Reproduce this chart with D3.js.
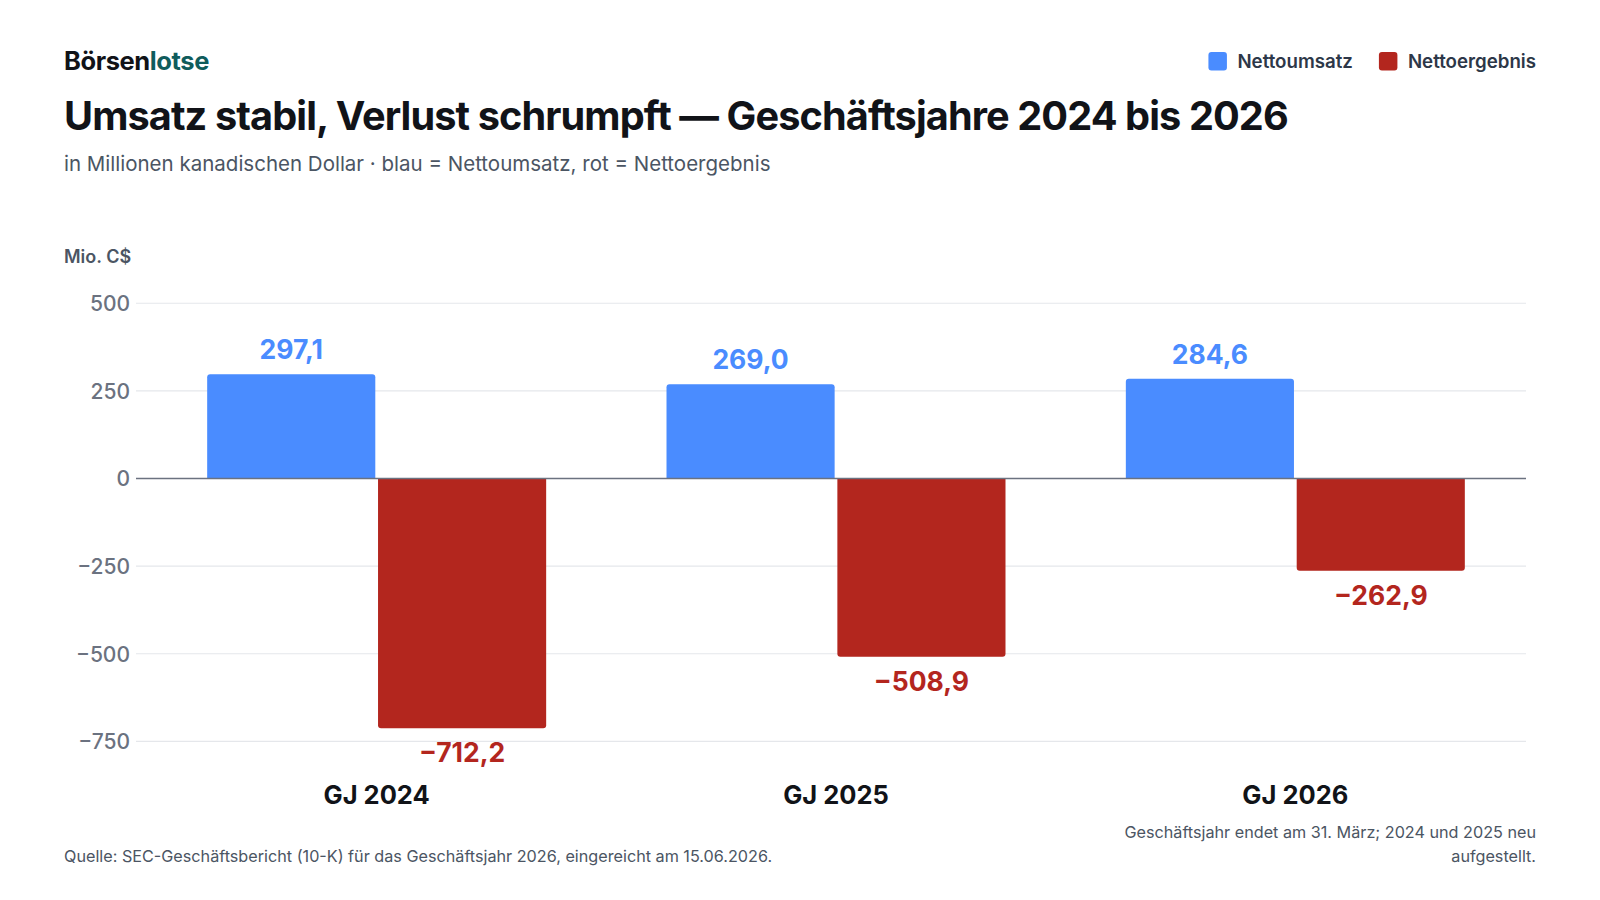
<!DOCTYPE html>
<html>
<head>
<meta charset="utf-8">
<script src="https://cdn.jsdelivr.net/npm/d3@7"></script>
<style>
  body { margin: 0; background: #fff; }
  svg { font-family: Inter, "Noto Sans", sans-serif; }
</style>
</head>
<body>
<svg id="chart" width="1600" height="900"></svg>
<script>
// data
const years = ["GJ 2024", "GJ 2025", "GJ 2026"];
const series = ["Nettoumsatz", "Nettoergebnis"];
const umsatz = [297.1, 269.0, 284.6];
const ergebnis = [-712.2, -508.9, -262.9];
const yTicks = [500, 250, 0, -250, -500, -750];
const colors = { Nettoumsatz: "#4a8cff", Nettoergebnis: "#b3261e" };

const rows = years.map((y, i) => ({ year: y, Nettoumsatz: umsatz[i], Nettoergebnis: ergebnis[i] }));

const svg = d3.select("#chart");
const fmt = v => (v < 0 ? "\u2212" : "") + Math.abs(v).toFixed(1).replace(".", ",");

// header
const logo = svg.append("text").attr("x", 64).attr("y", 70)
  .style("font-size", "25.5px").style("font-weight", 700).style("letter-spacing", "-0.4px");
logo.append("tspan").attr("fill", "#111318").text("Börsen");
logo.append("tspan").attr("fill", "#0f5c5c").text("lotse");

svg.append("text").attr("x", 64).attr("y", 130)
  .attr("fill", "#111318").style("font-size", "39.7px").style("font-weight", 700).style("letter-spacing", "-0.9px")
  .text("Umsatz stabil, Verlust schrumpft — Geschäftsjahre 2024 bis 2026");

svg.append("text").attr("x", 64).attr("y", 171)
  .attr("fill", "#4b5563").style("font-size", "20.5px")
  .text("in Millionen kanadischen Dollar · blau = Nettoumsatz, rot = Nettoergebnis");

// legend
const legend = svg.append("g");
let lx = 1536;
series.slice().reverse().forEach(s => {
  const t = legend.append("text").attr("x", lx).attr("y", 68).attr("text-anchor", "end")
    .attr("fill", "#2d3748").style("font-size", "18.7px").style("font-weight", 600).text(s);
  const w = t.node().getComputedTextLength();
  legend.append("rect").attr("x", lx - w - 29).attr("y", 52).attr("width", 18.5).attr("height", 18.5)
    .attr("rx", 3).attr("fill", colors[s]);
  lx = lx - w - 55;
});

// scales
const zeroY = 478.5, k = 0.3505;
const y = d3.scaleLinear().domain([-780, 540]).range([zeroY + 780 * k, zeroY - 540 * k]);
const x0 = d3.scaleBand().domain(years).range([147, 1525]).paddingInner(0.262).paddingOuter(0.131);
const x1 = d3.scaleBand().domain(series).range([0, x0.bandwidth()]).paddingInner(0.016);

// axis label
svg.append("text").attr("x", 64).attr("y", 263).attr("fill", "#4b5563")
  .style("font-size", "18px").style("font-weight", 600).text("Mio. C$");

// gridlines + ticks
const yAxis = d3.axisLeft(y).tickValues(yTicks).tickSize(0).tickPadding(0)
  .tickFormat(v => (v < 0 ? "\u2212" : "") + Math.abs(v));
const ga = svg.append("g").attr("transform", "translate(130,0)").call(yAxis);
ga.select(".domain").remove();
ga.selectAll("text").attr("fill", "#6b7280").style("font-size", "21px").style("font-weight", 500)
  .style("font-family", "Inter, sans-serif").attr("dy", "0.35em");

svg.append("g").selectAll("line").data(yTicks.filter(v => v !== 0)).join("line")
  .attr("x1", 136).attr("x2", 1526).attr("y1", d => y(d)).attr("y2", d => y(d))
  .attr("stroke", "#e5e7eb").attr("stroke-width", 1.2);

// bars
function barPath(x, w, v) {
  const r = 3;
  const y0 = y(0), y1 = y(v);
  if (v >= 0) {
    return `M${x},${y0}V${y1 + r}Q${x},${y1} ${x + r},${y1}H${x + w - r}Q${x + w},${y1} ${x + w},${y1 + r}V${y0}Z`;
  }
  return `M${x},${y0}V${y1 - r}Q${x},${y1} ${x + r},${y1}H${x + w - r}Q${x + w},${y1} ${x + w},${y1 - r}V${y0}Z`;
}

const groups = svg.append("g").selectAll("g").data(rows).join("g")
  .attr("transform", d => `translate(${x0(d.year)},0)`);

groups.selectAll("path").data(d => series.map(s => ({ key: s, value: d[s] }))).join("path")
  .attr("d", d => barPath(x1(d.key), x1.bandwidth(), d.value))
  .attr("fill", d => colors[d.key]);

groups.selectAll("text.val").data(d => series.map(s => ({ key: s, value: d[s] }))).join("text")
  .attr("class", "val")
  .attr("x", d => x1(d.key) + x1.bandwidth() / 2)
  .attr("y", d => d.value >= 0 ? y(d.value) - 15 : y(d.value) + 34)
  .attr("text-anchor", "middle")
  .attr("fill", d => colors[d.key])
  .style("font-size", "26.5px").style("font-weight", 700)
  .text(d => fmt(d.value));

// zero line
svg.append("line").attr("x1", 136).attr("x2", 1526).attr("y1", y(0)).attr("y2", y(0))
  .attr("stroke", "#6b7280").attr("stroke-width", 1.6);

// x labels
svg.append("g").selectAll("text").data(years).join("text")
  .attr("x", d => x0(d) + x0.bandwidth() / 2).attr("y", 804)
  .attr("text-anchor", "middle").attr("fill", "#111318")
  .style("font-size", "25.5px").style("font-weight", 700)
  .text(d => d);

// footer
svg.append("text").attr("x", 64).attr("y", 862).attr("fill", "#4b5563").style("font-size", "16.2px")
  .text("Quelle: SEC-Geschäftsbericht (10-K) für das Geschäftsjahr 2026, eingereicht am 15.06.2026.");
const note = svg.append("text").attr("text-anchor", "end").attr("fill", "#4b5563").style("font-size", "16.2px");
note.append("tspan").attr("x", 1536).attr("y", 838).text("Geschäftsjahr endet am 31. März; 2024 und 2025 neu");
note.append("tspan").attr("x", 1536).attr("y", 862).text("aufgestellt.");
</script>
</body>
</html>
